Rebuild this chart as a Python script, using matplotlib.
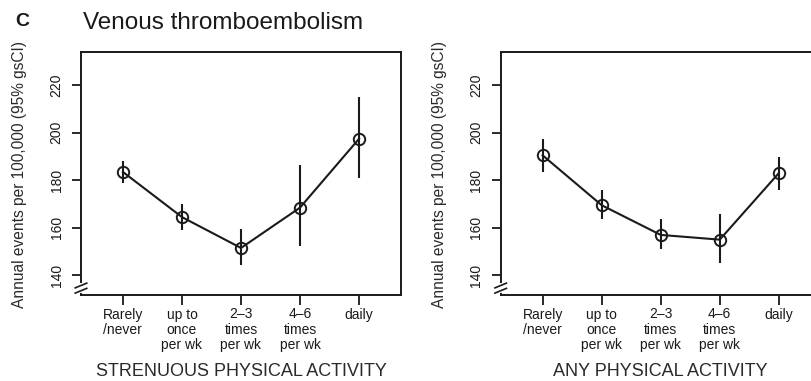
import matplotlib
matplotlib.use("Agg")
import matplotlib.pyplot as plt

plt.rcParams["font.family"] = ["Liberation Sans", "DejaVu Sans"]

categories = ["Rarely\n/never", "up to\nonce\nper wk", "2\u20133\ntimes\nper wk",
              "4\u20136\ntimes\nper wk", "daily"]
yticks = [140, 160, 180, 200, 220]

# strenuous physical activity
strenuous_mean = [183.5, 164.5, 151.5, 168.5, 197.5]
strenuous_low = [179, 159, 144.5, 152.5, 181]
strenuous_high = [188, 170, 159.5, 186.5, 215]

# any physical activity
any_mean = [190.5, 169.5, 157, 155, 183]
any_low = [183.5, 163.5, 151, 145, 176]
any_high = [197.5, 176, 163.5, 166, 190]

W, H = 812, 381
fig = plt.figure(figsize=(W / 100, H / 100), dpi=100)
ink = "#1a1a1a"


def panel(left_px, mean, low, high, xlabel):
    ax = fig.add_axes([left_px / W, (H - 295) / H, 320 / W, 243 / H])
    x = list(range(1, len(mean) + 1))
    ax.vlines(x, low, high, color=ink, lw=1.5)
    ax.plot(x, mean, color=ink, lw=1.5, marker="o", ms=8.2, mfc="none",
            mec=ink, mew=1.4)
    ax.set_xlim(0.29, 5.71)
    ax.set_ylim(131.7, 234)
    ax.set_xticks(x)
    ax.set_xticklabels(categories, fontsize=10, color="#2a2a2a",
                       linespacing=1.1)
    ax.set_yticks(yticks)
    ax.set_yticklabels([str(v) for v in yticks], fontsize=10, color="#2a2a2a",
                       rotation=90, va="center")
    ax.tick_params(axis="x", length=7, width=1.3, pad=2, colors=ink)
    ax.tick_params(axis="y", length=6.5, width=1.3, pad=6, colors=ink)
    for s in ax.spines.values():
        s.set_linewidth(1.4)
        s.set_color(ink)
    # axis break marks on the left spine
    tr = ax.get_yaxis_transform()
    yb = 134.6
    dx, dy = 0.018, 1.0
    ax.plot([0, 0], [yb - 1.3, yb + 1.3], transform=tr, color="white",
            lw=2.8, clip_on=False, zorder=5)
    for off in (-1.1, 1.1):
        ax.plot([-dx, dx], [yb + off - dy, yb + off + dy], transform=tr,
                color=ink, lw=1.2, clip_on=False, zorder=6)
    fig.text((left_px + 160) / W, 1 - 371 / H, xlabel, fontsize=13,
             color="#2a2a2a", ha="center", va="center")
    fig.text((left_px - 61) / W, 1 - 175 / H,
             "Annual events per 100,000 (95% gsCI)", fontsize=11.2,
             color="#2a2a2a", rotation=90, ha="center", va="center")
    return ax


panel(81, strenuous_mean, strenuous_low, strenuous_high,
      "STRENUOUS PHYSICAL ACTIVITY")
panel(500.7, any_mean, any_low, any_high, "ANY PHYSICAL ACTIVITY")

fig.text(15 / W, 1 - 22 / H, "C", fontsize=14, fontweight="bold",
         color=ink, ha="left", va="center")
fig.text(83 / W, 1 - 23 / H, "Venous thromboembolism", fontsize=17.5,
         color=ink, ha="left", va="center")

fig.savefig("out.png", dpi=100)
